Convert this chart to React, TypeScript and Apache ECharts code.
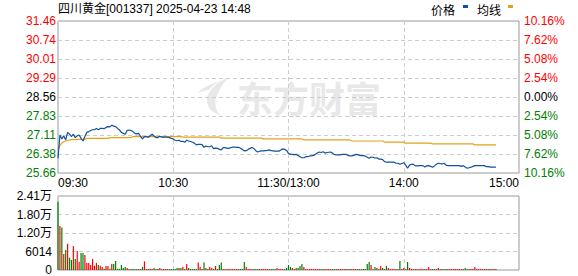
import React, { useEffect, useRef } from 'react';
import * as echarts from 'echarts';

const stockTitle = '四川黄金[001337] 2025-04-23 14:48';
const legendNames = ['价格', '均线'];
const watermarkText = '东方财富';
const prevClose = 28.56;
const limitPct = 10.16;
const timeLabels = ['09:30', '10:30', '11:30/13:00', '14:00', '15:00'];

// minute-by-minute price, index 0 = 09:30
const priceValues = [
  26.22, 27.11, 26.96, 27.08, 26.92, 27.21, 27.14, 27.05, 27.14, 27.01,
  27.08, 27.11, 26.98, 26.88, 27.05, 27.21, 27.24, 27.28, 27.31, 27.31,
  27.36, 27.31, 27.36, 27.36, 27.35, 27.40, 27.43, 27.42, 27.48, 27.45,
  27.43, 27.36, 27.30, 27.21, 27.17, 27.14, 27.29, 27.30, 27.28, 27.24,
  27.17, 27.15, 27.17, 27.05, 26.96, 27.05, 27.05, 27.02, 27.08, 27.14,
  27.07, 27.01, 27.01, 27.06, 27.03, 27.03, 27.03, 27.03, 27.01, 26.98,
  26.96, 26.91, 26.89, 26.91, 26.86, 26.87, 26.83, 26.91, 26.88, 26.86,
  26.83, 26.80, 26.73, 26.75, 26.75, 26.74, 26.64, 26.69, 26.66, 26.66,
  26.70, 26.59, 26.61, 26.60, 26.56, 26.54, 26.63, 26.63, 26.60, 26.60,
  26.63, 26.65, 26.65, 26.64, 26.64, 26.60, 26.56, 26.50, 26.51, 26.56,
  26.60, 26.63, 26.59, 26.51, 26.46, 26.49, 26.50, 26.50, 26.51, 26.52,
  26.54, 26.51, 26.50, 26.49, 26.49, 26.49, 26.54, 26.58, 26.56, 26.52,
  26.41, 26.37, 26.37, 26.36, 26.37, 26.33, 26.28, 26.24, 26.24, 26.28,
  26.28, 26.31, 26.31, 26.33, 26.37, 26.42, 26.46, 26.44, 26.47, 26.42,
  26.44, 26.45, 26.46, 26.41, 26.36, 26.35, 26.35, 26.35, 26.37, 26.37,
  26.37, 26.33, 26.31, 26.31, 26.33, 26.37, 26.36, 26.33, 26.32, 26.32,
  26.30, 26.26, 26.22, 26.27, 26.26, 26.23, 26.24, 26.19, 26.19, 26.17,
  26.09, 26.07, 26.07, 26.07, 26.07, 26.07, 26.03, 26.03, 25.99, 26.02,
  26.05, 25.96, 25.84, 25.96, 25.99, 25.99, 25.93, 25.93, 25.94, 25.94,
  25.94, 25.89, 25.93, 25.94, 25.91, 25.88, 25.93, 25.99, 26.03, 26.02,
  26.00, 26.03, 25.96, 25.94, 25.94, 25.94, 25.94, 25.94, 25.94, 25.94,
  25.91, 25.94, 25.89, 25.84, 25.86, 25.88, 25.91, 25.94, 25.94, 25.94,
  25.94, 25.94, 25.94, 25.90, 25.90, 25.88, 25.88, 25.88, 25.88,
];

// average price line readings: minute index and value
const avgMinutes = [0, 1, 2, 3, 4, 5, 7, 10, 14, 15, 26, 27, 38, 39, 64, 65, 84, 85, 106, 107, 127, 128, 152, 153, 169, 170, 180, 181, 194, 195, 216, 217, 228];
const avgValues = [26.54, 26.71, 26.80, 26.85, 26.88, 26.90, 26.93, 26.94, 26.95, 26.98, 26.98, 27.01, 27.01, 27.05, 27.05, 27.03, 27.03, 26.99, 26.99, 26.96, 26.96, 26.92, 26.92, 26.88, 26.88, 26.84, 26.84, 26.80, 26.80, 26.77, 26.77, 26.73, 26.73];

// minute volume (手)
const volumeValues = [
  22200, 14300, 13800, 5200, 6500, 8500, 4000, 3300, 7800, 3600,
  6200, 2700, 5500, 5500, 4900, 2300, 2300, 1600, 3600, 1400,
  2300, 1600, 1400, 1000, 400, 1300, 1300, 400, 1950, 1950,
  2900, 400, 400, 1600, 650, 1000, 650, 350, 330, 300,
  330, 350, 300, 330, 1000, 2800, 330, 300, 400, 330,
  650, 330, 300, 650, 330, 300, 330, 350, 300, 330,
  330, 300, 650, 650, 650, 1000, 330, 1950, 650, 330,
  300, 330, 350, 2400, 1000, 330, 2400, 650, 330, 1000,
  650, 330, 1300, 330, 1600, 2400, 330, 300, 330, 350,
  300, 330, 330, 300, 330, 350, 330, 2600, 1000, 330,
  300, 330, 330, 350, 300, 330, 330, 300, 330, 350,
  330, 300, 330, 330, 650, 330, 300, 330, 350, 650,
  1630, 1000, 650, 330, 650, 650, 1300, 1950, 1000, 330,
  300, 330, 350, 330, 300, 330, 330, 350, 300, 330,
  330, 300, 330, 350, 330, 300, 330, 330, 350, 300,
  330, 330, 300, 350, 330, 330, 300, 330, 350, 330,
  300, 1950, 2600, 1630, 330, 1000, 650, 330, 1300, 650,
  330, 1300, 650, 330, 300, 330, 350, 330, 2930, 330,
  650, 330, 2600, 650, 330, 300, 330, 350, 330, 300,
  330, 330, 350, 1000, 330, 300, 330, 330, 650, 330,
  300, 330, 350, 330, 300, 330, 330, 350, 300, 330,
  330, 300, 650, 330, 350, 330, 300, 1000, 330, 330,
  350, 300, 330, 330, 350, 300, 330, 330, 350,
];

const RED = '#ff0000';
const GREEN = '#008000';
const BLUE = '#12519f';
const GOLD = '#e3a21a';
const FONT = '"Liberation Sans", "Noto Sans CJK SC", sans-serif';

const logoPath =
  'M30 0 C18 4 8 14 9 24 C10 31 15 35 22 37 C17 31 16 24 19 17 C22 10 26 5 30 0 Z M22 3 C12 6 2 11 0 15 C4 13 8 12 11 12 C14 8 18 5 22 3 Z';

let logoRegistered = false;

export default function App() {
  const ref = useRef<HTMLDivElement>(null);

  useEffect(() => {
    document.body.style.margin = '0';
    if (!logoRegistered) {
      echarts.graphic.registerShape('dfcfLogo', echarts.graphic.extendPath(logoPath, {}));
      logoRegistered = true;
    }
    const chart = echarts.init(ref.current as HTMLDivElement, null, { renderer: 'svg' });

    const pMin = prevClose * (1 - limitPct / 100);
    const pMax = prevClose * (1 + limitPct / 100);
    const volMax = 24056;

    const priceData = priceValues.map((p, i) => [i, p]);
    const avgData = avgMinutes.map((m, k) => [m, avgValues[k]]);
    const volData = volumeValues.map((v, i) => {
      const diff = i === 0 ? priceValues[0] - prevClose : priceValues[i] - priceValues[i - 1];
      return { value: [i, v], itemStyle: { color: diff >= 0 ? RED : GREEN } };
    });

    const dashed = { show: true, lineStyle: { color: '#cccccc', type: [4, 3] as any, width: 1 } };

    const option: any = {
      animation: false,
      textStyle: { fontFamily: FONT },
      grid: [
        { left: 58, right: 59, top: 21, height: 152, show: true, borderColor: '#999', borderWidth: 1, backgroundColor: 'transparent' },
        { left: 58, right: 59, top: 196, height: 74, show: true, borderColor: '#999', borderWidth: 1, backgroundColor: 'transparent' },
      ],
      xAxis: [
        {
          type: 'value', gridIndex: 0, min: 0, max: 240, interval: 60,
          axisLine: { show: false }, axisTick: { show: false },
          splitLine: dashed,
          axisLabel: {
            show: true, margin: 4, fontSize: 12, color: '#000', fontFamily: FONT,
            formatter: (v: number) => timeLabels[Math.round(v / 60)],
            alignMinLabel: 'left', alignMaxLabel: 'right',
            showMinLabel: true, showMaxLabel: true,
          },
        },
        {
          type: 'value', gridIndex: 1, min: 0, max: 240, interval: 60,
          axisLine: { show: false }, axisTick: { show: false },
          splitLine: dashed, axisLabel: { show: false },
        },
      ],
      yAxis: [
        {
          type: 'value', gridIndex: 0, position: 'left', min: pMin, max: pMax, interval: (pMax - pMin) / 8,
          axisLine: { show: false }, axisTick: { show: false },
          splitLine: dashed,
          axisLabel: {
            margin: 2, fontSize: 12, fontFamily: FONT,
            formatter: (v: number) => v.toFixed(2),
            color: (v: any) => {
              const n = Number(v);
              return n > prevClose + 0.001 ? RED : n < prevClose - 0.001 ? GREEN : '#000';
            },
          },
        },
        {
          type: 'value', gridIndex: 0, position: 'right', min: -limitPct, max: limitPct, interval: limitPct / 4,
          axisLine: { show: false }, axisTick: { show: false }, splitLine: { show: false },
          axisLabel: {
            margin: 5, fontSize: 12, fontFamily: FONT,
            formatter: (v: number) => Math.abs(v).toFixed(2) + '%',
            color: (v: any) => {
              const n = Number(v);
              return n > 0.001 ? RED : n < -0.001 ? GREEN : '#000';
            },
          },
        },
        {
          type: 'value', gridIndex: 1, position: 'left', min: 0, max: volMax, interval: volMax / 4,
          axisLine: { show: false }, axisTick: { show: false },
          splitLine: dashed,
          axisLabel: {
            margin: 6, fontSize: 12, color: '#000', fontFamily: FONT,
            formatter: (v: number) => (v >= 10000 ? (v / 10000).toFixed(2) + '万' : String(Math.round(v))),
          },
        },
      ],
      graphic: [
        {
          type: 'group', silent: true, z: 0,
          children: [
            { type: 'dfcfLogo', x: 198, y: 78, scaleX: 1, scaleY: 1, style: { fill: '#e8e8e8' } },
            {
              type: 'text', x: 237, y: 97,
              style: { text: watermarkText, fill: '#e8e8e8', font: 'bold 36px "Noto Sans CJK SC"', verticalAlign: 'middle', align: 'left' },
            },
          ],
        },
        {
          type: 'text', x: 58, y: 9,
          style: { text: stockTitle, fill: '#000', font: '12px ' + FONT, verticalAlign: 'middle', align: 'left' },
        },
        {
          type: 'text', x: 431, y: 9,
          style: { text: legendNames[0], fill: '#000', font: '12px "Noto Sans CJK SC"', verticalAlign: 'middle', align: 'left' },
        },
        { type: 'rect', shape: { x: 463, y: 5, width: 5, height: 3 }, style: { fill: BLUE } },
        {
          type: 'text', x: 477, y: 9,
          style: { text: legendNames[1], fill: '#000', font: '12px "Noto Sans CJK SC"', verticalAlign: 'middle', align: 'left' },
        },
        { type: 'rect', shape: { x: 508, y: 5, width: 5, height: 3 }, style: { fill: GOLD } },
      ],
      series: [
        {
          name: legendNames[1], type: 'line', xAxisIndex: 0, yAxisIndex: 0, data: avgData,
          showSymbol: false, symbol: 'none', lineStyle: { color: GOLD, width: 1.2 }, z: 3,
        },
        {
          name: legendNames[0], type: 'line', xAxisIndex: 0, yAxisIndex: 0, data: priceData,
          showSymbol: false, symbol: 'none', lineStyle: { color: BLUE, width: 1.2 }, z: 4,
        },
        {
          name: '成交量', type: 'bar', xAxisIndex: 1, yAxisIndex: 2, data: volData,
          barWidth: 1.2, z: 3,
        },
      ],
    };

    chart.setOption(option);
    return () => chart.dispose();
  }, []);

  return <div ref={ref} style={{ width: 578, height: 276 }} />;
}
